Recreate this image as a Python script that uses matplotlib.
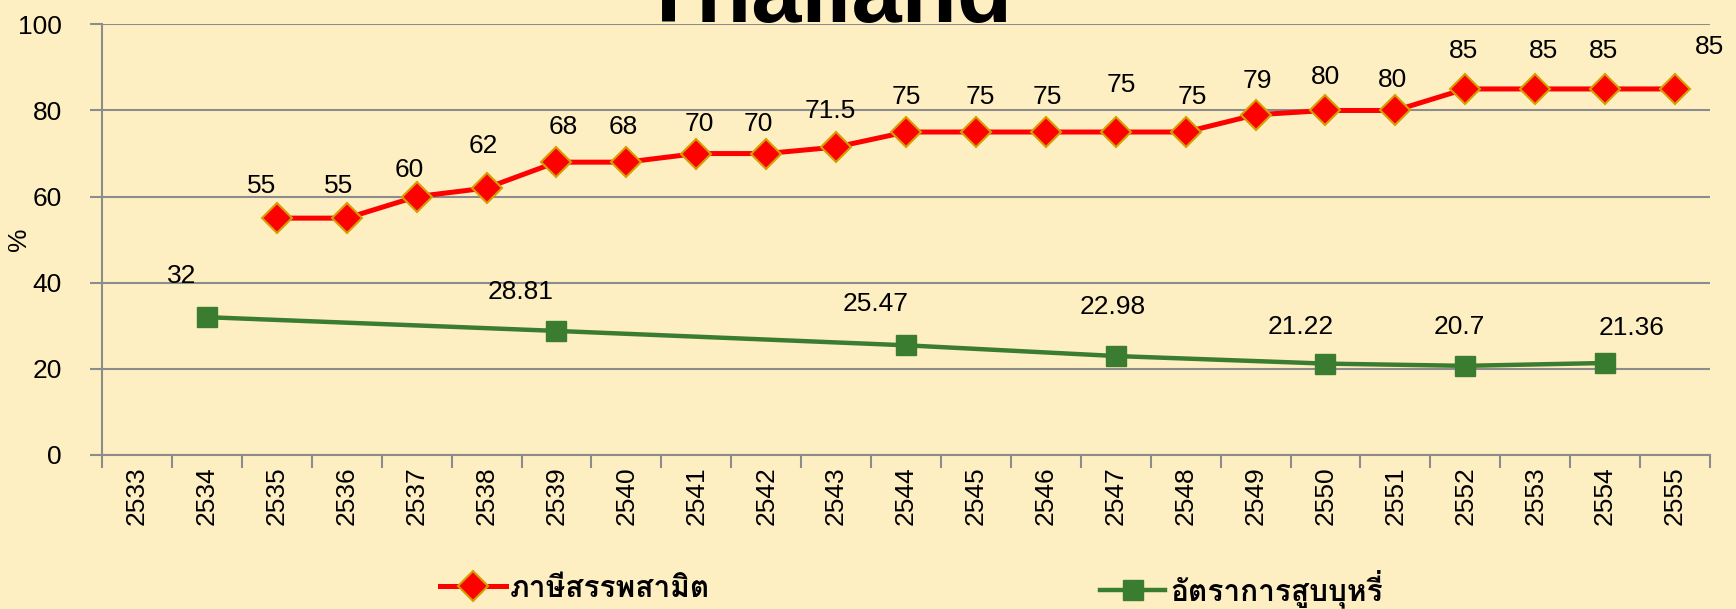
import numpy as np
import matplotlib
matplotlib.use('Agg')
import matplotlib.pyplot as plt

years = [str(y) for y in range(2533, 2556)]
excise = [np.nan, np.nan, 55, 55, 60, 62, 68, 68, 70, 70, 71.5, 75, 75, 75, 75, 75, 79, 80, 80, 85, 85, 85, 85]
smoke_years = ['2534', '2539', '2544', '2547', '2550', '2552', '2554']
smoke = [32, 28.81, 25.47, 22.98, 21.22, 20.7, 21.36]

# ตำแหน่ง label (offset points)
excise_off = [None, None, (-11, 23), (-6, 23), (-5, 19), (-2, 30), (5, 25), (-2, 25), (2, 21), (-6, 21),
              (-4, 26), (0, 25), (3, 25), (1, 25), (4, 34), (5, 25), (1, 24), (0, 24), (-2, 22),
              (-1, 27), (6, 27), (-1, 27), (25, 30)]
smoke_off = [(-18, 30), (-26, 28), (-22, 30), (-2, 35), (-18, 26), (-4, 28), (19, 25)]

bg = '#FEEFC3'
plt.rcParams['font.family'] = ['Liberation Sans', 'DejaVu Sans']
thai = ['Loma', 'Garuda', 'DejaVu Sans']

fig = plt.figure(figsize=(17.36, 6.09), dpi=100, facecolor=bg)
ax = fig.add_axes([0.0588, 0.2529, 0.9262, 0.7071])
ax.set_facecolor(bg)

x = np.arange(len(years))
xs = [years.index(y) for y in smoke_years]

l1, = ax.plot(x, excise, color='#FF0000', lw=3.6, marker='D', ms=15, mfc='#FF0000', mec='#D4A000', mew=1.5,
              label='ภาษีสรรพสามิต', zorder=3)
l2, = ax.plot(xs, smoke, color='#3B7D30', lw=3.2, marker='s', ms=14, mfc='#3B7D30', mec='#3B7D30',
              label='อัตราการสูบบุหรี่', zorder=3)

for i, v in enumerate(excise):
    if np.isnan(v):
        continue
    ax.annotate('%g' % v, (i, v), xytext=excise_off[i], textcoords='offset points', ha='center',
                va='center', fontsize=19)
for j, v in enumerate(smoke):
    ax.annotate('%g' % v, (xs[j], v), xytext=smoke_off[j], textcoords='offset points', ha='center',
                va='center', fontsize=19)

ax.set_xlim(-0.5, len(years) - 0.5)
ax.set_ylim(0, 100)
ax.set_yticks(range(0, 101, 20))
ax.set_xticks(x)
ax.set_xticklabels(years, rotation=90, fontsize=19)
ax.set_xticks(np.arange(-0.5, len(years)), minor=True)
ax.tick_params(axis='x', which='major', length=0, pad=8)
ax.tick_params(axis='x', which='minor', length=9, color='#8C8C8C', width=1.5)
ax.tick_params(axis='y', labelsize=19, length=9, color='#8C8C8C', width=1.5, pad=20)
ax.grid(axis='y', color='#8C8C8C', lw=1.5)
ax.set_axisbelow(True)
for s in ['top', 'right']:
    ax.spines[s].set_visible(False)
for s in ['left', 'bottom']:
    ax.spines[s].set_color('#8C8C8C')
    ax.spines[s].set_linewidth(1.5)
ax.set_ylabel('%', fontsize=19)
ax.yaxis.set_label_coords(-0.044, 0.5)

fig.text(0.476, 0.964, 'Thailand', fontsize=65, fontweight='bold', ha='center', va='baseline')

lp = {'family': thai, 'size': 21.5, 'weight': 'bold'}
fig.legend(handles=[l1], loc='center left', bbox_to_anchor=(0.238, 0.033), frameon=False,
           handlelength=2.2, handletextpad=0.15, prop=lp)
fig.legend(handles=[l2], loc='center left', bbox_to_anchor=(0.618, 0.033), frameon=False,
           handlelength=2.2, handletextpad=0.15, prop=lp)

fig.savefig('out.png', dpi=100, facecolor=bg)
